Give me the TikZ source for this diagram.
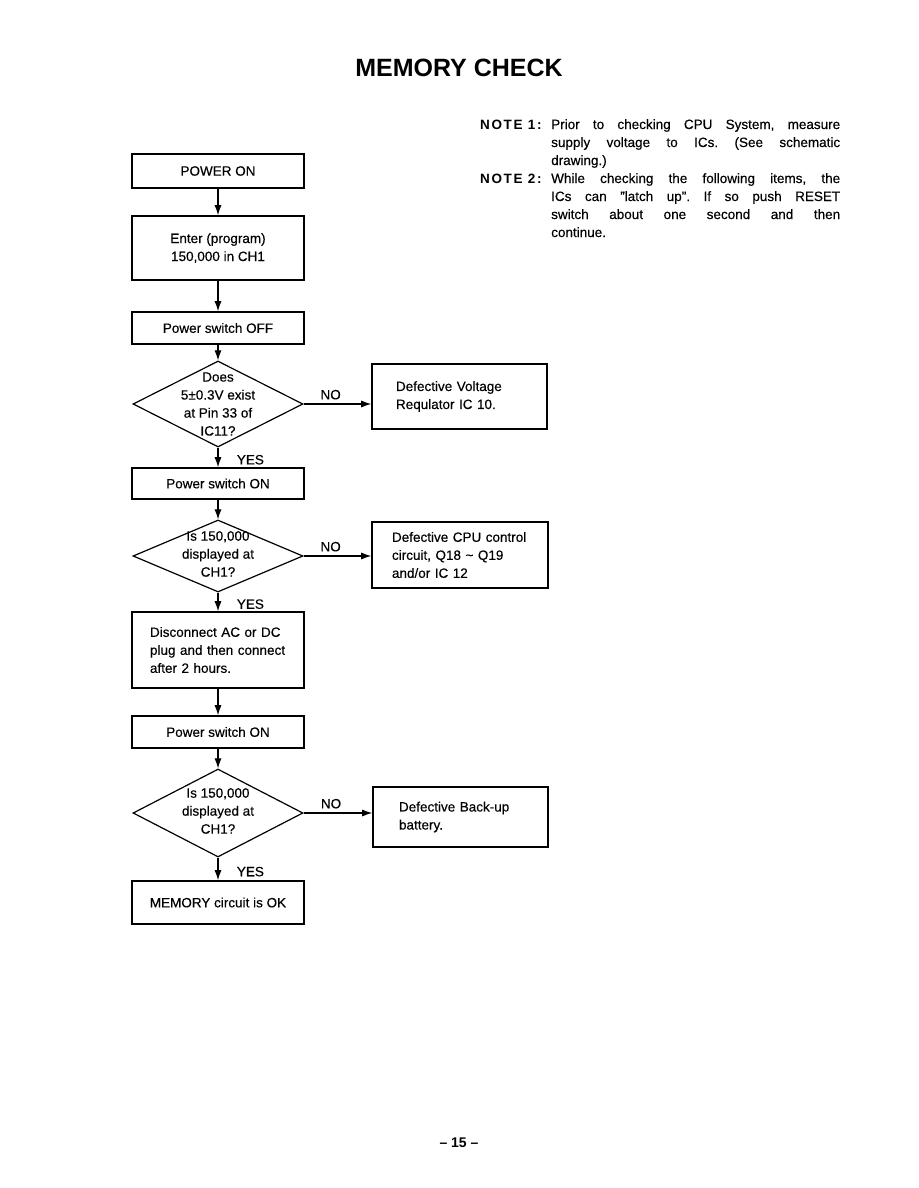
\documentclass[tikz,border=0pt]{standalone}
\usepackage{fontspec}
\setmainfont{Liberation Sans}[Ligatures=TeX,UprightFeatures={FakeBold=0.3}]
\usepackage{tikz}
\usetikzlibrary{arrows.meta,shapes.geometric,positioning,calc}

\newcommand\justline[1]{\makebox[289pt][s]{\frenchspacing\spaceskip=0pt\xspaceskip=0pt\relax #1}}

\begin{document}
\begin{tikzpicture}[x=1pt,y=-1pt,
  every node/.style={font=\fontsize{13.5}{18}\selectfont},
  box/.style={draw,line width=1.6pt,minimum width=172pt,inner sep=0pt},
  nobox/.style={draw,line width=1.6pt,minimum width=175pt,inner ysep=0pt,align=left},
  decision/.style={draw,diamond,line width=1.2pt,minimum width=170pt,inner sep=0pt},
  notelbl/.style={anchor=base west,inner sep=0pt,font=\fontsize{13.5}{18}\selectfont\bfseries\addfontfeatures{LetterSpace=12}},
  notetext/.style={anchor=base west,inner sep=0pt,text width=289pt,align=left},
  flow/.style={line width=1.1pt,-{Latex[length=10pt,width=7pt]}},
  nolbl/.style={above,pos=0.4,inner sep=4pt},
  yeslbl/.style={anchor=west,pos=0.62,xshift=15pt}]
  % page
  \fill[white] (0,0) rectangle (918,1188);
  \useasboundingbox (0,0) rectangle (918,1188);
  \node[font=\fontsize{25}{30}\selectfont\bfseries] (title) at (459,68) {MEMORY CHECK};

  % notes
  \node[notelbl] (lbl1) at (480,129) {NOTE 1:};
  \node[notetext] (note1) at (551,129)
    {\justline{Prior to checking CPU System, measure}\\
     \justline{supply voltage to ICs. (See schematic}\\
     drawing.)};
  \node[notelbl] (lbl2) at (480,183) {NOTE 2:};
  \node[notetext] (note2) at (551,183)
    {\justline{While checking the following items, the}\\
     \justline{ICs can ''latch up''. If so push RESET}\\
     \justline{switch about one second and then}\\
     continue.};

  % main column
  \node[box,minimum height=34pt] (b1) at (218,171) {POWER ON};
  \node[box,minimum height=64pt,align=center] (b2) at (218,248) {Enter (program)\\150,000 in CH1};
  \node[box,minimum height=32pt] (b3) at (218,328) {Power switch OFF};
  \node[decision,minimum height=86pt] (d1) at (218,404) {};
  \node[align=center] (d1t) at (d1.center) {Does\\5±0.3V exist\\at Pin 33 of\\IC11?};
  \node[box,minimum height=31pt] (b4) at (218,483.5) {Power switch ON};
  \node[decision,minimum height=72pt] (d2) at (218,556) {};
  \node[align=center] (d2t) at ([yshift=2pt]d2.center) {Is 150,000\\displayed at\\CH1?};
  \node[box,minimum height=76pt,text width=136pt,inner xsep=18pt,align=left] (b5) at (218,650)
    {Disconnect AC or DC\\plug and then connect\\after 2 hours.};
  \node[box,minimum height=32pt] (b6) at (218,732) {Power switch ON};
  \node[decision,minimum height=88pt] (d3) at (218,813) {};
  \node[align=center] (d3t) at ([yshift=2pt]d3.center) {Is 150,000\\displayed at\\CH1?};
  \node[box,minimum height=43pt] (b7) at (218,902.5) {MEMORY circuit is OK};

  % fault boxes
  \node[nobox,minimum height=65pt,text width=127pt,inner xsep=24pt] (n1) at (459.5,396.5)
    {Defective Voltage\\Requlator IC 10.};
  \node[nobox,minimum height=66pt,text width=136pt,inner xsep=20pt] (n2) at (460,555)
    {Defective CPU control\\circuit, Q18 \textasciitilde{} Q19\\and/or IC 12};
  \node[nobox,minimum height=60pt,text width=123pt,inner xsep=26pt] (n3) at (460.5,817)
    {Defective Back-up\\battery.};

  % connectors
  \draw[flow] (b1.south) -- (b2.north);
  \draw[flow] (b2.south) -- (b3.north);
  \draw[flow] (b3.south) -- (d1.north);
  \draw[flow] (d1.south) -- node[yeslbl] {YES} (b4.north);
  \draw[flow] (d1.east) -- node[nolbl] {NO} (d1.east -| n1.west);
  \draw[flow] (b4.south) -- (d2.north);
  \draw[flow] (d2.south) -- node[yeslbl] {YES} (b5.north);
  \draw[flow] (d2.east) -- node[nolbl] {NO} (d2.east -| n2.west);
  \draw[flow] (b5.south) -- (b6.north);
  \draw[flow] (b6.south) -- (d3.north);
  \draw[flow] (d3.south) -- node[yeslbl] {YES} (b7.north);
  \draw[flow] (d3.east) -- node[nolbl] {NO} (d3.east -| n3.west);

  \node[font=\fontsize{14}{16}\selectfont\bfseries] (page) at (459,1143) {-- 15 --};
\end{tikzpicture}
\end{document}
